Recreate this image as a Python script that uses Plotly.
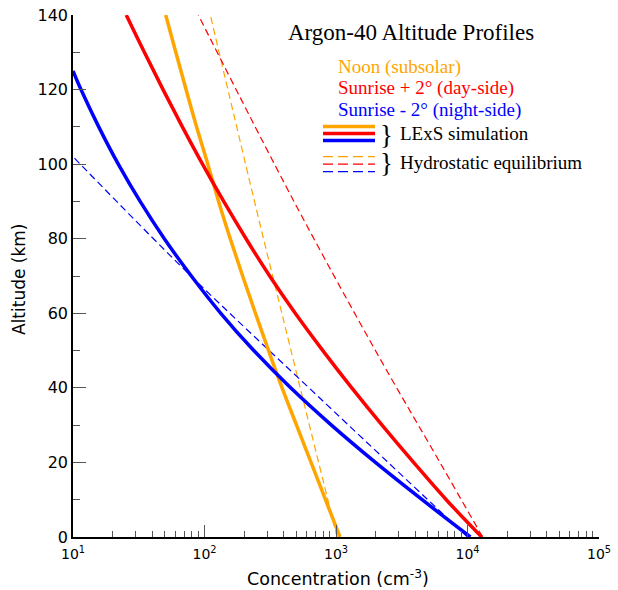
import plotly.graph_objects as go

# ---------------- data ----------------
alt_step = [0, 10, 20, 30, 40, 50, 60, 70, 80, 90, 100, 110, 120, 130, 140]

noon_lexs = [1072, 832, 646, 501, 389, 307, 244, 195, 157, 128, 106, 87, 72.4, 60.5, 50.7]
sunrise_day_lexs = [12820, 6890, 3890, 2240, 1318, 794, 490, 313, 207, 140, 96.6, 67.9, 48.4, 34.9, 25.4]

alt_night_lexs = [0, 10, 20, 30, 40, 50, 60, 70, 80, 90, 100, 110, 120, 125]
sunrise_night_lexs = [10520, 4519, 1995, 923, 452, 237, 133, 79.4, 49.5, 32.4, 22.1, 15.7, 11.5, 10.0]

alt_noon_hydro = [0, 50, 90, 140]
noon_hydro = [1019, 455, 240, 110.7]

alt_day_hydro = [0, 20, 50, 90, 140]
sunrise_day_hydro = [13030, 6170, 1995, 479, 89.7]

alt_night_hydro = [0, 37, 71, 102]
sunrise_night_hydro = [10000, 767, 73.8, 10.0]

x_tick_vals = [10, 100, 1000, 10000, 100000]
x_tick_text = ["10<sup>1</sup>", "10<sup>2</sup>", "10<sup>3</sup>", "10<sup>4</sup>", "10<sup>5</sup>"]
x_minor_vals = [m * d for d in [10, 100, 1000, 10000] for m in range(2, 10)]
y_tick_vals = [0, 20, 40, 60, 80, 100, 120, 140]

ORANGE = "#FFA500"
RED = "#FF0000"
BLUE = "#0000FF"

title_text = "Argon-40 Altitude Profiles"
legend_labels = ["Noon (subsolar)", "Sunrise + 2° (day-side)", "Sunrise - 2° (night-side)"]

# ---------------- figure ----------------
W, H = 618, 590
L, R, T, B = 73, 19, 15, 53
PW, PH = W - L - R, H - T - B


def px(xp):
    return (xp - L) / PW


def py(yp):
    return (T + PH - yp) / PH


fig = go.Figure()

dash_style = "7px,4px"
# hydrostatic (dashed)
fig.add_trace(go.Scatter(x=noon_hydro, y=alt_noon_hydro, mode="lines",
                         line=dict(color=ORANGE, width=1.2, dash=dash_style, shape="spline"),
                         showlegend=False))
fig.add_trace(go.Scatter(x=sunrise_day_hydro, y=alt_day_hydro, mode="lines",
                         line=dict(color=RED, width=1.2, dash=dash_style, shape="spline"),
                         showlegend=False))
fig.add_trace(go.Scatter(x=sunrise_night_hydro, y=alt_night_hydro, mode="lines",
                         line=dict(color=BLUE, width=1.2, dash=dash_style, shape="spline"),
                         showlegend=False))
# LExS simulation (solid)
fig.add_trace(go.Scatter(x=noon_lexs, y=alt_step, mode="lines",
                         line=dict(color=ORANGE, width=3.5, shape="spline"), showlegend=False))
fig.add_trace(go.Scatter(x=sunrise_day_lexs, y=alt_step, mode="lines",
                         line=dict(color=RED, width=3.5, shape="spline"), showlegend=False))
fig.add_trace(go.Scatter(x=sunrise_night_lexs, y=alt_night_lexs, mode="lines",
                         line=dict(color=BLUE, width=3.5, shape="spline"), showlegend=False))

tick_font = dict(family="DejaVu Sans", size=16, color="black")

fig.update_layout(
    width=W, height=H,
    margin=dict(l=L, r=R, t=T, b=B, autoexpand=False),
    paper_bgcolor="white", plot_bgcolor="white",
    xaxis=dict(
        type="log", range=[1, 5], showgrid=False, zeroline=False,
        showline=True, linecolor="black", linewidth=1.5,
        ticks="inside", ticklen=12, tickwidth=1.2, tickcolor="#555555",
        tickvals=x_tick_vals, ticktext=x_tick_text, ticklabelstandoff=3,
        tickfont=dict(family="DejaVu Sans", size=14, color="black"),
        minor=dict(ticks="inside", ticklen=6, tickwidth=1.2, tickcolor="#555555",
                   tickvals=x_minor_vals, showgrid=False),
    ),
    yaxis=dict(
        range=[0, 140], showgrid=False, zeroline=False,
        showline=True, linecolor="black", linewidth=1.5,
        ticks="inside", ticklen=13, tickwidth=1.2, tickcolor="#555555",
        tickvals=y_tick_vals, tickfont=tick_font,
        minor=dict(ticks="inside", ticklen=7, tickwidth=1.2, tickcolor="#555555",
                   dtick=10, showgrid=False),
    ),
)

ann = []
# axis titles
ann.append(dict(text="Concentration (cm<sup>-3</sup>)", x=px(338), y=py(578), xref="paper", yref="paper",
                showarrow=False, xanchor="center", yanchor="middle",
                font=dict(family="DejaVu Sans", size=17.5, color="black")))
ann.append(dict(text="Altitude (km)", x=px(19), y=py(279), xref="paper", yref="paper",
                showarrow=False, xanchor="center", yanchor="middle", textangle=-90,
                font=dict(family="DejaVu Sans", size=17, color="black")))

serif = "Liberation Serif"
ann.append(dict(text=title_text, x=px(286), y=py(33), xref="paper", yref="paper",
                showarrow=False, xanchor="left", yanchor="middle",
                font=dict(family=serif, size=23, color="black")))
for lab, col, yc in zip(legend_labels, [ORANGE, RED, BLUE], [66.5, 88.2, 110.0]):
    ann.append(dict(text=lab, x=px(335.5), y=py(yc), xref="paper", yref="paper",
                    showarrow=False, xanchor="left", yanchor="middle",
                    font=dict(family=serif, size=19, color=col)))
ann.append(dict(text="}", x=px(378), y=py(135), xref="paper", yref="paper",
                showarrow=False, xanchor="left", yanchor="middle",
                font=dict(family=serif, size=27, color="black")))
ann.append(dict(text="}", x=px(378), y=py(163), xref="paper", yref="paper",
                showarrow=False, xanchor="left", yanchor="middle",
                font=dict(family=serif, size=27, color="black")))
ann.append(dict(text="LExS simulation", x=px(398), y=py(133.5), xref="paper", yref="paper",
                showarrow=False, xanchor="left", yanchor="middle",
                font=dict(family=serif, size=19, color="black")))
ann.append(dict(text="Hydrostatic equilibrium", x=px(398), y=py(162.5), xref="paper", yref="paper",
                showarrow=False, xanchor="left", yanchor="middle",
                font=dict(family=serif, size=19, color="black")))
fig.update_layout(annotations=ann)

# legend swatches
shapes = []
for col, yv in zip([ORANGE, RED, BLUE], [126.5, 133.5, 140.5]):
    shapes.append(dict(type="line", xref="paper", yref="paper", x0=px(323), x1=px(375),
                       y0=py(yv), y1=py(yv), line=dict(color=col, width=3.3)))
for col, yv in zip([ORANGE, RED, BLUE], [156.7, 164.2, 171.7]):
    shapes.append(dict(type="line", xref="paper", yref="paper", x0=px(323), x1=px(375),
                       y0=py(yv), y1=py(yv), line=dict(color=col, width=1.2, dash="10px,5px")))
fig.update_layout(shapes=shapes)

fig.write_html("out.html")
